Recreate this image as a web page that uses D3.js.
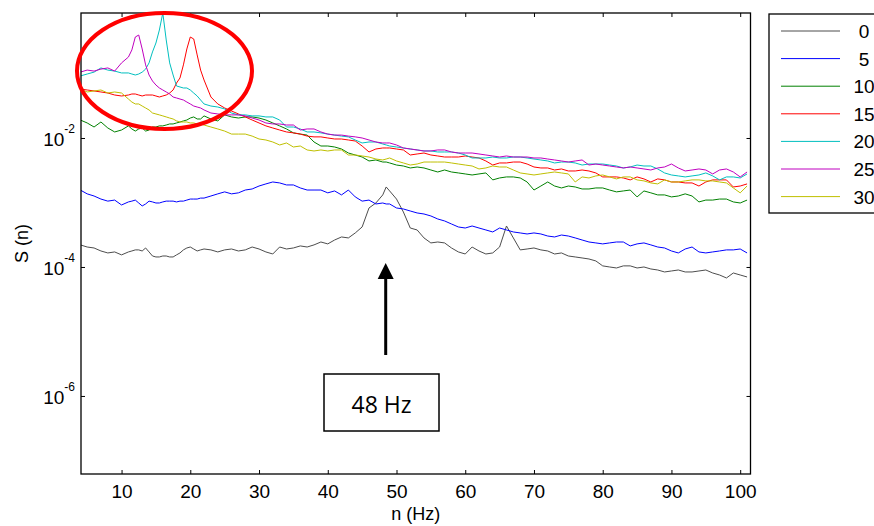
<!DOCTYPE html>
<html lang="en">

<head>
    <meta charset="UTF-8" />
    <title>S(n) spectra</title>
    <script src="https://d3js.org/d3.v7.min.js"></script>
    <style>
        body { margin: 0; background: #fff; }
        svg { display: block; font-family: "Liberation Sans", Arial, sans-serif; }
        .axis path { display: none; }
        .axis line { stroke: black; stroke-width: 1; }
        .axis text { font-size: 19px; fill: black; }
        .legend text { font-size: 19px; fill: black; }
    </style>
</head>

<body>
    <script>
        // frequency points (Hz)
        const freq = [4, 5, 6, 7, 8, 9, 10,
            11, 11.5, 12, 12.5, 13, 13.5, 14, 14.5, 15, 15.5, 16, 16.5, 17, 17.5, 18, 18.5, 19, 19.5, 20, 20.5, 21, 21.5, 22,
            23, 24, 25, 26, 27, 28, 29, 30, 31, 32, 33, 34, 35, 36, 37, 38, 39, 40, 41, 42, 43, 44, 45, 46, 47, 48,
            48.5,
            49, 50, 51, 52, 53, 54, 55, 56, 57, 58, 59, 60, 61, 62, 63, 64, 65, 66, 67, 68, 69, 70, 71, 72, 73, 74, 75,
            76, 77, 78, 79, 80, 81, 82, 83, 84, 85, 86, 87, 88, 89, 90, 91, 92, 93, 94, 95, 96, 97, 98, 99, 100, 101];

        const s0 = [2.20e-4, 2.04e-4, 1.97e-4, 1.77e-4, 1.65e-4, 1.71e-4, 1.54e-4,
            1.71e-4, 1.77e-4, 1.84e-4, 1.84e-4, 1.77e-4, 1.97e-4, 1.71e-4, 1.48e-4, 1.43e-4, 1.43e-4, 1.48e-4, 1.48e-4, 1.43e-4, 1.43e-4, 1.54e-4, 1.65e-4, 1.84e-4, 1.97e-4, 2.04e-4, 1.90e-4, 1.77e-4, 1.84e-4, 1.90e-4,
            1.84e-4, 1.71e-4, 1.84e-4, 1.90e-4, 1.77e-4, 1.84e-4, 2.04e-4, 1.90e-4, 1.71e-4, 1.59e-4, 2.04e-4, 1.90e-4, 1.97e-4, 2.12e-4, 2.04e-4, 2.20e-4, 2.44e-4, 2.28e-4, 2.62e-4, 2.92e-4, 2.82e-4, 3.37e-4, 4.17e-4, 8.22e-4, 9.82e-4, 1.31e-3,
            1.74e-3,
            1.51e-3, 1.13e-3, 7.12e-4, 4.02e-4, 3.75e-4, 2.82e-4, 2.36e-4, 2.44e-4, 2.36e-4, 1.97e-4, 1.71e-4, 1.59e-4, 2.04e-4, 1.77e-4, 1.59e-4, 1.65e-4, 2.04e-4, 4.32e-4, 2.82e-4, 1.84e-4, 1.90e-4, 1.97e-4, 1.84e-4, 1.77e-4, 1.59e-4, 1.65e-4, 1.48e-4, 1.43e-4, 1.38e-4, 1.33e-4, 1.24e-4, 1.04e-4, 1.00e-4, 9.65e-5, 1.04e-4, 1.04e-4, 9.65e-5, 1.00e-4, 9.31e-5, 8.98e-5, 8.37e-5, 8.67e-5, 8.98e-5, 8.37e-5, 8.37e-5, 8.67e-5, 8.98e-5, 8.07e-5, 7.51e-5, 6.75e-5, 8.07e-5, 7.51e-5, 7.00e-5];

        const s5 = [1.56e-3, 1.36e-3, 1.26e-3, 1.13e-3, 1.05e-3, 1.09e-3, 9.15e-4,
            1.02e-3, 1.05e-3, 1.09e-3, 9.82e-4, 8.83e-4, 9.48e-4, 1.05e-3, 1.02e-3, 9.82e-4, 9.82e-4, 1.02e-3, 1.05e-3, 1.05e-3, 1.05e-3, 1.02e-3, 1.05e-3, 1.05e-3, 1.09e-3, 1.13e-3, 1.13e-3, 1.13e-3, 1.17e-3, 1.17e-3,
            1.26e-3, 1.36e-3, 1.46e-3, 1.36e-3, 1.41e-3, 1.56e-3, 1.62e-3, 1.80e-3, 1.94e-3, 2.08e-3, 2.01e-3, 1.87e-3, 1.87e-3, 1.68e-3, 1.56e-3, 1.56e-3, 1.56e-3, 1.41e-3, 1.51e-3, 1.31e-3, 1.56e-3, 1.22e-3, 1.05e-3, 1.09e-3, 9.48e-4, 9.82e-4,
            9.48e-4,
            9.48e-4, 8.22e-4, 7.93e-4, 7.38e-4, 6.88e-4, 6.63e-4, 6.18e-4, 5.55e-4, 5.17e-4, 4.64e-4, 4.17e-4, 4.02e-4, 4.32e-4, 4.02e-4, 3.75e-4, 3.49e-4, 4.02e-4, 3.75e-4, 3.49e-4, 3.37e-4, 3.25e-4, 3.37e-4, 3.25e-4, 3.02e-4, 2.92e-4, 3.13e-4, 3.02e-4, 2.82e-4, 2.62e-4, 2.44e-4, 2.36e-4, 2.28e-4, 2.36e-4, 2.44e-4, 2.44e-4, 2.12e-4, 2.28e-4, 2.36e-4, 2.20e-4, 2.04e-4, 1.97e-4, 1.77e-4, 1.65e-4, 1.90e-4, 2.04e-4, 1.71e-4, 1.65e-4, 1.71e-4, 1.77e-4, 1.84e-4, 1.84e-4, 1.90e-4, 1.65e-4];

        const s10 = [1.90e-2, 1.71e-2, 1.48e-2, 1.77e-2, 1.43e-2, 1.24e-2, 1.33e-2,
            1.54e-2, 1.38e-2, 1.28e-2, 1.38e-2, 1.43e-2, 1.28e-2, 1.33e-2, 1.48e-2, 1.48e-2, 1.54e-2, 1.54e-2, 1.59e-2, 1.65e-2, 1.65e-2, 1.71e-2, 1.77e-2, 1.84e-2, 1.90e-2, 2.04e-2, 2.12e-2, 1.97e-2, 1.97e-2, 2.20e-2,
            1.97e-2, 1.84e-2, 2.28e-2, 2.12e-2, 2.04e-2, 2.12e-2, 2.12e-2, 2.04e-2, 1.90e-2, 1.71e-2, 1.54e-2, 1.38e-2, 1.20e-2, 1.15e-2, 1.11e-2, 8.67e-3, 7.51e-3, 7.51e-3, 7.25e-3, 6.75e-3, 5.85e-3, 5.45e-3, 5.07e-3, 4.40e-3, 4.56e-3, 4.24e-3,
            4.24e-3,
            4.10e-3, 3.81e-3, 3.68e-3, 3.43e-3, 3.55e-3, 3.43e-3, 3.19e-3, 2.97e-3, 3.19e-3, 2.97e-3, 2.87e-3, 2.77e-3, 2.67e-3, 2.77e-3, 2.87e-3, 2.24e-3, 2.40e-3, 2.49e-3, 2.49e-3, 2.40e-3, 2.08e-3, 1.56e-3, 1.80e-3, 2.08e-3, 1.80e-3, 1.68e-3, 1.80e-3, 1.74e-3, 1.62e-3, 1.62e-3, 1.68e-3, 1.68e-3, 1.56e-3, 1.46e-3, 1.51e-3, 1.56e-3, 1.22e-3, 1.51e-3, 1.41e-3, 1.31e-3, 1.31e-3, 1.22e-3, 1.26e-3, 1.36e-3, 1.26e-3, 1.02e-3, 1.09e-3, 1.09e-3, 1.13e-3, 1.13e-3, 1.02e-3, 9.82e-4, 1.09e-3];

        const s15 = [5.75e-2, 5.55e-2, 5.36e-2, 5.17e-2, 4.98e-2, 4.64e-2, 4.48e-2,
            4.64e-2, 4.81e-2, 4.81e-2, 4.64e-2, 4.48e-2, 4.64e-2, 4.64e-2, 4.64e-2, 4.48e-2, 4.32e-2, 4.48e-2, 4.64e-2, 4.98e-2, 5.55e-2, 7.12e-2, 8.52e-2, 0.136, 0.240, 0.368, 0.343, 0.194, 0.113, 7.93e-2,
            4.32e-2, 3.37e-2, 2.92e-2, 2.62e-2, 2.36e-2, 2.12e-2, 1.90e-2, 1.71e-2, 1.54e-2, 1.43e-2, 1.33e-2, 1.24e-2, 1.20e-2, 1.15e-2, 1.07e-2, 1.04e-2, 1.04e-2, 1.00e-2, 9.65e-3, 9.65e-3, 9.31e-3, 8.98e-3, 7.51e-3, 6.07e-3, 6.75e-3, 7.00e-3,
            7.00e-3,
            7.00e-3, 6.75e-3, 6.52e-3, 5.45e-3, 5.65e-3, 5.85e-3, 5.45e-3, 5.26e-3, 5.07e-3, 5.07e-3, 5.07e-3, 5.26e-3, 5.07e-3, 4.90e-3, 4.40e-3, 3.81e-3, 4.10e-3, 4.10e-3, 4.24e-3, 4.24e-3, 3.95e-3, 3.55e-3, 3.43e-3, 3.43e-3, 3.19e-3, 3.31e-3, 3.08e-3, 3.08e-3, 3.19e-3, 3.08e-3, 2.87e-3, 2.49e-3, 2.49e-3, 2.49e-3, 2.40e-3, 2.24e-3, 2.49e-3, 2.32e-3, 2.08e-3, 2.32e-3, 2.24e-3, 2.08e-3, 2.08e-3, 2.01e-3, 2.01e-3, 1.80e-3, 2.08e-3, 2.24e-3, 2.24e-3, 2.24e-3, 1.74e-3, 1.80e-3, 1.94e-3];

        const s20 = [9.15e-2, 9.82e-2, 0.105, 0.122, 0.113, 0.109, 0.102,
            0.102, 9.82e-2, 9.48e-2, 9.82e-2, 0.105, 0.117, 0.146, 0.216, 0.297, 0.472, 0.867, 0.331, 0.146, 9.48e-2, 6.40e-2, 6.18e-2, 5.96e-2, 5.96e-2, 5.55e-2, 4.98e-2, 4.48e-2, 3.88e-2, 3.37e-2,
            3.13e-2, 3.02e-2, 2.82e-2, 2.44e-2, 2.28e-2, 2.28e-2, 2.20e-2, 2.20e-2, 2.12e-2, 2.12e-2, 1.90e-2, 1.48e-2, 1.48e-2, 1.38e-2, 1.24e-2, 1.24e-2, 1.20e-2, 1.15e-2, 1.11e-2, 1.07e-2, 1.04e-2, 9.31e-3, 8.37e-3, 8.67e-3, 8.67e-3, 8.07e-3,
            7.79e-3,
            7.51e-3, 7.25e-3, 7.00e-3, 6.75e-3, 6.52e-3, 6.29e-3, 6.29e-3, 6.07e-3, 6.07e-3, 6.07e-3, 5.85e-3, 5.45e-3, 4.90e-3, 4.90e-3, 4.90e-3, 5.07e-3, 4.90e-3, 4.90e-3, 5.07e-3, 5.07e-3, 4.90e-3, 4.72e-3, 4.56e-3, 4.40e-3, 4.10e-3, 4.24e-3, 4.24e-3, 4.10e-3, 3.81e-3, 3.95e-3, 3.95e-3, 3.95e-3, 3.81e-3, 3.68e-3, 3.43e-3, 3.55e-3, 3.81e-3, 3.68e-3, 3.68e-3, 3.31e-3, 2.87e-3, 2.67e-3, 2.58e-3, 2.49e-3, 2.58e-3, 2.67e-3, 2.87e-3, 2.58e-3, 2.24e-3, 2.49e-3, 2.49e-3, 2.40e-3, 2.77e-3];

        const s25 = [0.105, 0.113, 0.109, 0.117, 0.122, 0.109, 0.146,
            0.180, 0.232, 0.368, 0.395, 0.240, 0.136, 9.48e-2, 7.65e-2, 6.63e-2, 5.96e-2, 5.55e-2, 5.17e-2, 4.81e-2, 4.32e-2, 4.17e-2, 4.02e-2, 3.88e-2, 3.61e-2, 3.37e-2, 3.13e-2, 3.02e-2, 2.92e-2, 2.72e-2,
            2.44e-2, 2.36e-2, 2.28e-2, 2.28e-2, 2.28e-2, 2.20e-2, 2.04e-2, 1.90e-2, 1.71e-2, 1.65e-2, 1.65e-2, 1.59e-2, 1.59e-2, 1.33e-2, 1.38e-2, 1.38e-2, 1.24e-2, 1.15e-2, 1.11e-2, 1.11e-2, 1.07e-2, 1.04e-2, 1.00e-2, 9.31e-3, 8.67e-3, 8.37e-3,
            8.37e-3,
            8.37e-3, 7.79e-3, 7.00e-3, 6.75e-3, 6.52e-3, 6.29e-3, 6.29e-3, 6.52e-3, 6.52e-3, 6.07e-3, 5.85e-3, 5.85e-3, 5.85e-3, 5.65e-3, 5.45e-3, 5.26e-3, 5.07e-3, 5.26e-3, 5.07e-3, 5.07e-3, 5.07e-3, 4.90e-3, 4.90e-3, 4.72e-3, 4.56e-3, 4.40e-3, 4.24e-3, 4.40e-3, 4.56e-3, 3.81e-3, 3.95e-3, 3.81e-3, 3.68e-3, 3.55e-3, 3.43e-3, 3.55e-3, 3.43e-3, 3.31e-3, 3.19e-3, 3.43e-3, 3.55e-3, 3.95e-3, 3.43e-3, 3.08e-3, 3.19e-3, 3.31e-3, 3.19e-3, 2.77e-3, 3.19e-3, 3.31e-3, 2.97e-3, 2.49e-3, 2.97e-3];

        const s30 = [5.75e-2, 5.17e-2, 5.36e-2, 5.55e-2, 4.98e-2, 5.17e-2, 4.98e-2,
            4.02e-2, 3.61e-2, 3.37e-2, 3.37e-2, 3.13e-2, 2.92e-2, 2.72e-2, 2.44e-2, 2.36e-2, 2.28e-2, 2.20e-2, 2.12e-2, 2.04e-2, 1.97e-2, 1.84e-2, 1.77e-2, 1.77e-2, 1.77e-2, 1.71e-2, 1.71e-2, 1.65e-2, 1.65e-2, 1.59e-2,
            1.48e-2, 1.38e-2, 1.28e-2, 1.15e-2, 1.15e-2, 1.15e-2, 1.07e-2, 9.65e-3, 9.31e-3, 8.67e-3, 7.79e-3, 8.37e-3, 7.25e-3, 7.51e-3, 6.52e-3, 6.29e-3, 6.52e-3, 6.29e-3, 6.52e-3, 6.52e-3, 5.45e-3, 5.45e-3, 5.26e-3, 5.07e-3, 4.72e-3, 4.56e-3,
            4.72e-3,
            4.90e-3, 4.40e-3, 4.10e-3, 3.81e-3, 3.95e-3, 4.24e-3, 4.24e-3, 4.24e-3, 4.24e-3, 4.10e-3, 3.95e-3, 3.81e-3, 3.68e-3, 3.31e-3, 3.43e-3, 3.68e-3, 3.55e-3, 3.55e-3, 3.19e-3, 2.87e-3, 2.77e-3, 2.67e-3, 2.77e-3, 2.87e-3, 2.97e-3, 2.87e-3, 2.77e-3, 2.08e-3, 2.49e-3, 2.40e-3, 2.58e-3, 2.67e-3, 2.49e-3, 2.32e-3, 2.49e-3, 2.49e-3, 2.24e-3, 2.16e-3, 2.01e-3, 1.94e-3, 2.24e-3, 2.08e-3, 2.08e-3, 2.16e-3, 2.24e-3, 2.24e-3, 2.16e-3, 2.16e-3, 2.08e-3, 2.01e-3, 1.68e-3, 1.41e-3, 1.80e-3];

        const seriesNames = ['0', '5', '10', '15', '20', '25', '30'];
        const seriesValues = [s0, s5, s10, s15, s20, s25, s30];
        const seriesColors = ['#4d4d4d', '#0000ff', '#008000', '#ff0000', '#00bfbf', '#bf00bf', '#bfbf00'];

        const xTicks = [10, 20, 30, 40, 50, 60, 70, 80, 90, 100];
        const yTicks = [1e-2, 1e-4, 1e-6];
        const yTickExp = ['-2', '-4', '-6'];

        const w = 874, h = 526;
        const plot = { left: 81, right: 750.5, top: 13, bottom: 474 };

        const x = d3.scaleLinear().domain([4.1, 101.5]).range([plot.left, plot.right]);
        const y = d3.scaleLog().domain([Math.pow(10, -7.21), Math.pow(10, -0.062)]).range([plot.bottom, plot.top]);

        const svg = d3.select("body")
            .append("svg")
            .attr("width", w)
            .attr("height", h);

        svg.append("rect").attr("width", w).attr("height", h).attr("fill", "white");

        svg.append("clipPath").attr("id", "plot-clip")
            .append("rect")
            .attr("x", plot.left).attr("y", plot.top - 1)
            .attr("width", plot.right - plot.left).attr("height", plot.bottom - plot.top + 1);

        // series lines
        const table = seriesNames.map((name, i) => ({ name: name, values: seriesValues[i], color: seriesColors[i] }));

        const line = d3.line()
            .x((d, i) => x(freq[i]))
            .y(d => y(d));

        svg.append("g")
            .attr("clip-path", "url(#plot-clip)")
            .selectAll("path")
            .data(table)
            .enter().append("path")
            .attr("fill", "none")
            .attr("stroke", d => d.color)
            .attr("stroke-width", 1)
            .attr("d", d => line(d.values));

        // axes (ticks point inward)
        svg.append("g").attr("class", "axis")
            .attr("transform", `translate(0,${plot.bottom})`)
            .call(d3.axisBottom(x).tickValues(xTicks).tickSizeInner(-4).tickSizeOuter(0).tickPadding(11));

        svg.append("g").attr("class", "axis")
            .attr("transform", `translate(0,${plot.top})`)
            .call(d3.axisTop(x).tickValues(xTicks).tickSizeInner(-4).tickSizeOuter(0).tickFormat(""));

        svg.append("g").attr("class", "axis")
            .attr("transform", `translate(${plot.left},0)`)
            .call(d3.axisLeft(y).tickValues(yTicks).tickSizeInner(-4).tickSizeOuter(0).tickFormat(""));

        svg.append("g").attr("class", "axis")
            .attr("transform", `translate(${plot.right},0)`)
            .call(d3.axisRight(y).tickValues(yTicks).tickSizeInner(-4).tickSizeOuter(0).tickFormat(""));

        // y tick labels with superscripts
        const yLab = svg.append("g").attr("class", "axis")
            .selectAll("text")
            .data(yTicks)
            .enter().append("text")
            .attr("x", plot.left - 6)
            .attr("y", d => y(d) + 8)
            .attr("text-anchor", "end");
        yLab.append("tspan").text("10");
        yLab.append("tspan")
            .attr("dy", -13)
            .style("font-size", "12px")
            .text((d, i) => yTickExp[i]);

        // frame
        svg.append("rect")
            .attr("x", plot.left).attr("y", plot.top)
            .attr("width", plot.right - plot.left).attr("height", plot.bottom - plot.top)
            .attr("fill", "none")
            .attr("stroke", "black")
            .attr("stroke-width", 1.3);

        // axis labels
        svg.append("text")
            .attr("x", (plot.left + plot.right) / 2)
            .attr("y", 520)
            .attr("text-anchor", "middle")
            .style("font-size", "18px")
            .text("n (Hz)");

        svg.append("text")
            .attr("transform", `translate(28,${(plot.top + plot.bottom) / 2}) rotate(-90)`)
            .attr("text-anchor", "middle")
            .style("font-size", "18px")
            .text("S (n)");

        // legend
        const legend = svg.append("g").attr("class", "legend");
        legend.append("rect")
            .attr("x", 769).attr("y", 14)
            .attr("width", 120).attr("height", 199)
            .attr("fill", "white")
            .attr("stroke", "black")
            .attr("stroke-width", 1.3);

        const items = legend.selectAll("g.item")
            .data(table)
            .enter().append("g")
            .attr("class", "item")
            .attr("transform", (d, i) => `translate(0, ${31 + i * 27.6})`);

        items.append("line")
            .attr("x1", 781).attr("x2", 840)
            .attr("stroke", d => d.color)
            .attr("stroke-width", 1);

        items.append("text")
            .attr("x", 864)
            .attr("y", 7)
            .attr("text-anchor", "middle")
            .text(d => d.name);

        // annotations: ellipse, arrow and label box
        svg.append("ellipse")
            .attr("cx", 164.5).attr("cy", 71)
            .attr("rx", 87.5).attr("ry", 58)
            .attr("fill", "none")
            .attr("stroke", "#ff0000")
            .attr("stroke-width", 4);

        svg.append("line")
            .attr("x1", 385.7).attr("x2", 385.7)
            .attr("y1", 355).attr("y2", 277)
            .attr("stroke", "black")
            .attr("stroke-width", 3);

        svg.append("path")
            .attr("d", "M385.7,263 L393.7,279 L377.7,279 Z")
            .attr("fill", "black");

        svg.append("rect")
            .attr("x", 324).attr("y", 374)
            .attr("width", 115).attr("height", 57)
            .attr("fill", "white")
            .attr("stroke", "black")
            .attr("stroke-width", 1.5);

        svg.append("text")
            .attr("x", 381.5).attr("y", 413)
            .attr("text-anchor", "middle")
            .style("font-family", "'Open Sans', sans-serif")
            .style("font-size", "23px")
            .text("48 Hz");
    </script>
</body>

</html>
